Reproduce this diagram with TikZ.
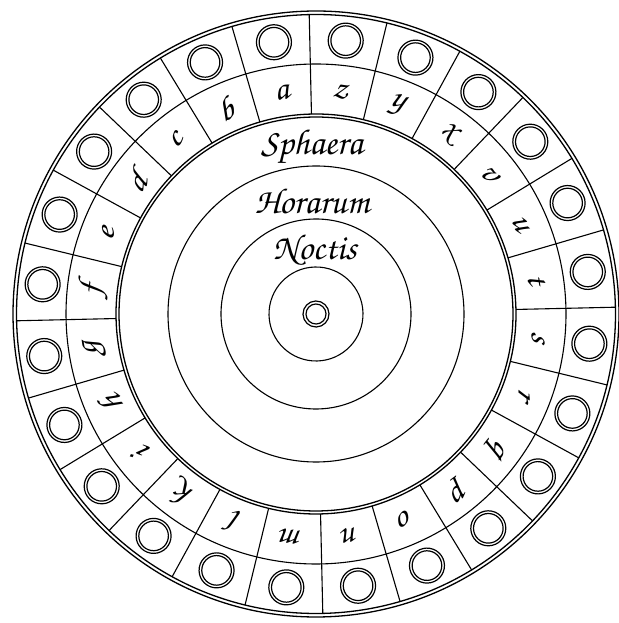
\documentclass[tikz,border=0pt]{standalone}
\usepackage[T1,TU]{fontenc}
\usetikzlibrary{calc}
\newcommand\mycursive{\fontencoding{T1}\fontfamily{pzc}\fontseries{m}\fontshape{it}\selectfont}
\tikzset{
  ringline/.style={line width=1.3pt, black},
  thinring/.style={line width=1.1pt, black},
  spoke/.style={line width=1.1pt, black},
  hole/.style={line width=1.2pt, black},
  letter/.style={font=\mycursive\fontsize{34}{36}\selectfont, inner sep=0pt},
  title/.style={font=\mycursive\fontsize{36}{38}\selectfont, inner sep=0pt}
}
\begin{document}
\begin{tikzpicture}[x=1pt,y=1pt]
\useasboundingbox (0,0) rectangle (618,623);
\coordinate (C) at (316,309);
\begin{scope}[shift={(C)}, rotate=1.3]
  % outer double circle
  \draw[ringline] (0,0) circle[radius=303];
  \draw[ringline] (0,0) circle[radius=299.5];
  % circle between holes and letters
  \draw[thinring] (0,0) circle[radius=250];
  % inner double circle of the letter ring
  \draw[ringline] (0,0) circle[radius=200];
  \draw[ringline] (0,0) circle[radius=197];
  % inner circles
  \draw[thinring] (0,0) circle[radius=148];
  \draw[thinring] (0,0) circle[radius=95];
  \draw[thinring] (0,0) circle[radius=47];
  % centre hole
  \draw[hole] (0,0) circle[radius=13];
  \draw[hole] (0,0) circle[radius=10];
  % spokes
  \foreach \k in {0,...,23}
    \draw[spoke] (\k*15:200) -- (\k*15:299.5);
  % holes
  \foreach \k in {0,...,23} {
    \draw[hole] (\k*15+7.5:275) circle[radius=17.5];
    \draw[hole] (\k*15+7.5:275) circle[radius=14.8];
  }
  % letters
  \foreach \l [count=\i from 0] in {a,b,c,d,e,f,g,h,i,k,l,m,n,o,p,q,r,s,t,u,v,x,y,z}
    \node[letter, rotate=7.5+15*\i] (L\i) at (97.5+15*\i:224) {\l};
\end{scope}
\node[title] (sphaera) at ($(C)+(-4,167)$) {Sphaera};
\node[title] (horarum) at ($(C)+(-4,113)$) {Horarum};
\node[title] (noctis) at ($(C)+(-1,64)$) {Noctis};
\end{tikzpicture}
\end{document}
